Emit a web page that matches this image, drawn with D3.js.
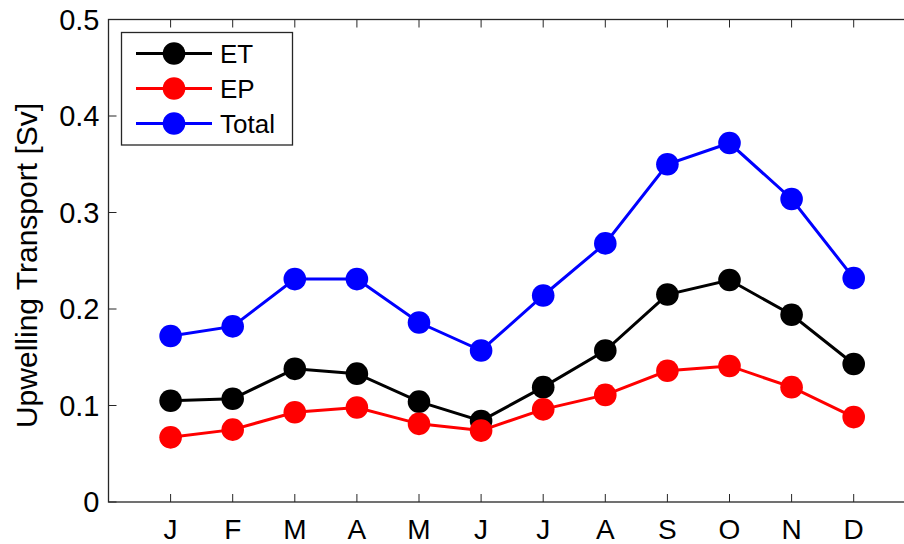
<!DOCTYPE html>
<html>
<head>
<meta charset="utf-8">
<script src="https://cdn.jsdelivr.net/npm/d3@7"></script>
<style>
  html, body { margin: 0; padding: 0; background: #fff; }
  svg { display: block; }
  text { font-family: "Liberation Sans", Arial, Helvetica, sans-serif; fill: #000; }
</style>
</head>
<body>
<svg id="chart" width="904" height="544"></svg>
<script>
const months = ["J","F","M","A","M","J","J","A","S","O","N","D"];
const etValues    = [0.105, 0.107, 0.138, 0.133, 0.104, 0.084, 0.119, 0.157, 0.215, 0.230, 0.194, 0.143];
const epValues    = [0.067, 0.075, 0.093, 0.098, 0.081, 0.074, 0.096, 0.111, 0.136, 0.141, 0.119, 0.088];
const totalValues = [0.172, 0.182, 0.231, 0.231, 0.186, 0.157, 0.214, 0.268, 0.350, 0.372, 0.314, 0.232];
const yTicks = [0, 0.1, 0.2, 0.3, 0.4, 0.5];
const yTickLabels = ["0", "0.1", "0.2", "0.3", "0.4", "0.5"];
const seriesNames = ["ET", "EP", "Total"];
const seriesColors = ["#000000", "#ff0000", "#0000ff"];
const yLabel = "Upwelling Transport [Sv]";

const series = seriesNames.map((name, i) => ({
  name, color: seriesColors[i], values: [etValues, epValues, totalValues][i]
}));

const svg = d3.select("#chart");
const mLeft = 108.5, mTop = 19.5, mBottom = 502;
const x = d3.scaleLinear().domain([0, 13]).range([mLeft, mLeft + 13 * 62.1]);
const y = d3.scaleLinear().domain([0, 0.5]).range([mBottom, mTop]);
const axisColor = "#262626";

// y tick labels
svg.append("g").selectAll("text").data(yTicks).join("text")
  .attr("x", mLeft - 9).attr("y", d => y(d))
  .attr("dy", "0.36em").attr("text-anchor", "end")
  .style("font-size", "29px")
  .text((d, i) => yTickLabels[i]);

// x tick labels
svg.append("g").selectAll("text").data(months).join("text")
  .attr("x", (d, i) => x(i + 1)).attr("y", 538.5)
  .attr("text-anchor", "middle")
  .style("font-size", "28px")
  .text(d => d);

// y label
svg.append("text")
  .attr("transform", `translate(${37},${265.5}) rotate(-90)`)
  .attr("text-anchor", "middle")
  .style("font-size", "30px")
  .text(yLabel);

// ticks (inward)
const tl = 8;
const tickG = svg.append("g").attr("stroke", axisColor).attr("stroke-width", 1);
months.forEach((m, i) => {
  tickG.append("line").attr("x1", x(i + 1)).attr("x2", x(i + 1)).attr("y1", mBottom).attr("y2", mBottom - tl);
  tickG.append("line").attr("x1", x(i + 1)).attr("x2", x(i + 1)).attr("y1", mTop).attr("y2", mTop + tl);
});
yTicks.forEach(t => {
  tickG.append("line").attr("x1", mLeft).attr("x2", mLeft + tl).attr("y1", y(t)).attr("y2", y(t));
  tickG.append("line").attr("x1", x(13)).attr("x2", x(13) - tl).attr("y1", y(t)).attr("y2", y(t));
});

// box
svg.append("rect")
  .attr("x", mLeft).attr("y", mTop)
  .attr("width", x(13) - mLeft).attr("height", mBottom - mTop)
  .attr("fill", "none").attr("stroke", axisColor).attr("stroke-width", 1.3);

// lines and markers
const line = d3.line().x((d, i) => x(i + 1)).y(d => y(d));
series.forEach(s => {
  const g = svg.append("g");
  g.append("path").datum(s.values)
    .attr("d", line).attr("fill", "none")
    .attr("stroke", s.color).attr("stroke-width", 3);
  g.selectAll("circle").data(s.values).join("circle")
    .attr("cx", (d, i) => x(i + 1)).attr("cy", d => y(d))
    .attr("r", 11.3).attr("fill", s.color);
});

// legend
const lg = svg.append("g");
lg.append("rect").attr("x", 121.5).attr("y", 32.5).attr("width", 171).attr("height", 112.5)
  .attr("fill", "#fff").attr("stroke", axisColor).attr("stroke-width", 1.3);
series.forEach((s, i) => {
  const cy = 53.5 + i * 35;
  lg.append("line").attr("x1", 136).attr("x2", 212).attr("y1", cy).attr("y2", cy)
    .attr("stroke", s.color).attr("stroke-width", 3);
  lg.append("circle").attr("cx", 174).attr("cy", cy).attr("r", 11.3).attr("fill", s.color);
  lg.append("text").attr("x", 220).attr("y", cy).attr("dy", "0.36em")
    .style("font-size", "26px").text(s.name);
});
</script>
</body>
</html>
